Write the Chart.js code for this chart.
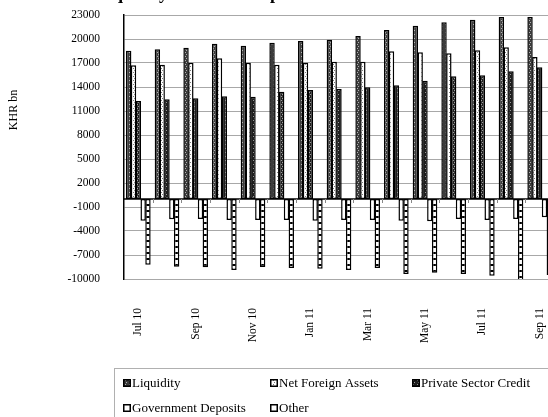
<!DOCTYPE html>
<html>
<head>
<meta charset="utf-8">
<script src="https://cdn.jsdelivr.net/npm/chart.js@4/dist/chart.umd.min.js"></script>
<style>
  html, body { margin: 0; padding: 0; background: #fff; overflow: hidden; }
  #wrap { position: absolute; left: 0; top: 0; width: 560px; height: 417px; }
</style>
</head>
<body>
<div id="wrap"><canvas id="chart" width="560" height="417"></canvas></div>
<script>
// data (KHR bn)
const months = ["Jul 10", "Aug 10", "Sep 10", "Oct 10", "Nov 10", "Dec 10", "Jan 11", "Feb 11",
  "Mar 11", "Apr 11", "May 11", "Jun 11", "Jul 11", "Aug 11", "Sep 11"];
const liquidity = [18540, 18710, 18910, 19410, 19160, 19540, 19750, 19910, 20375, 21125, 21660, 22090, 22410, 22750, 22750];
const netForeignAssets = [16710, 16790, 17040, 17590, 17040, 16790, 17040, 17160, 17160, 18460, 18340, 18210, 18590, 18960, 17750];
const privateCredit = [12250, 12460, 12590, 12840, 12790, 13410, 13625, 13750, 13960, 14210, 14790, 15340, 15460, 15960, 16460];
const govDeposits = [-2710, -2540, -2500, -2625, -2625, -2625, -2710, -2625, -2625, -2710, -2790, -2500, -2625, -2500, -2290];
const other = [-8210, -8460, -8540, -8875, -8500, -8625, -8710, -8875, -8625, -9375, -9210, -9375, -9580, -10300, -9500];
const yTicks = [-10000, -7000, -4000, -1000, 2000, 5000, 8000, 11000, 14000, 17000, 20000, 23000];

const serif = '"Times New Roman", "Liberation Serif", serif';

// small tiled fills that imitate the hatched bars
function makePattern(bg, fg, kind) {
  const c = document.createElement("canvas");
  c.width = 4; c.height = kind === "ladder" ? 6 : 4;
  const g = c.getContext("2d");
  g.fillStyle = bg;
  g.fillRect(0, 0, c.width, c.height);
  g.fillStyle = fg;
  if (kind === "dots") {
    g.fillRect(1, 0, 1, 1);
    g.fillRect(2, 2, 1, 1);
  } else if (kind === "ladder") {
    g.fillRect(0, 0, 4, 2);
  }
  return g.createPattern(c, "repeat");
}

const fills = [
  makePattern("#3c3c3c", "#b0b0b0", "dots"),
  makePattern("#ffffff", "#7a7a7a", "dots"),
  makePattern("#1e1e1e", "#9a9a9a", "dots"),
  "#ffffff",
  makePattern("#ffffff", "#000000", "ladder")
];
const legendFills = [fills[0], fills[1], fills[2], "#ffffff", "#ffffff"];
const names = ["Liquidity", "Net Foreign Assets", "Private Sector Credit", "Government Deposits", "Other"];
const series = [liquidity, netForeignAssets, privateCredit, govDeposits, other];

// title (cut off at the top), y label, zero line and legend
const extras = {
  id: "extras",
  afterDatasetsDraw(chart) {
    const ctx = chart.ctx;
    const y = chart.scales.y, x = chart.scales.x;
    const y0 = y.getPixelForValue(0);
    ctx.save();
    ctx.strokeStyle = "#000";
    ctx.lineWidth = 1.5;
    ctx.beginPath();
    ctx.moveTo(chart.chartArea.left, y0);
    ctx.lineTo(chart.chartArea.right, y0);
    ctx.stroke();
    ctx.lineWidth = 1;
    ctx.strokeStyle = "#888";
    for (let i = 1; i < months.length; i++) {
      const px = Math.round((x.getPixelForValue(i - 1) + x.getPixelForValue(i)) / 2) + 0.5;
      ctx.beginPath();
      ctx.moveTo(px, y0);
      ctx.lineTo(px, y0 + 4);
      ctx.stroke();
    }
    ctx.restore();
  },
  afterDraw(chart) {
    const ctx = chart.ctx;
    ctx.save();
    ctx.fillStyle = "#000";
    ctx.font = "bold 18px " + serif;
    ctx.textBaseline = "alphabetic";
    ctx.textAlign = "left";
    ctx.fillText("Liquidity and Counterparts", 96, -1);

    ctx.font = "12px " + serif;
    ctx.translate(14, 110);
    ctx.rotate(-Math.PI / 2);
    ctx.textAlign = "center";
    ctx.textBaseline = "middle";
    ctx.fillText("KHR bn", 0, 0);
    ctx.restore();

    // legend box
    ctx.save();
    ctx.strokeStyle = "#b0b0b0";
    ctx.lineWidth = 1;
    ctx.strokeRect(114.5, 368.5, 460, 60);
    const cols = [123, 270, 412];
    const rows = [383, 408];
    ctx.font = "13px " + serif;
    ctx.textBaseline = "middle";
    ctx.textAlign = "left";
    names.forEach((n, i) => {
      const lx = cols[i % 3], ly = rows[Math.floor(i / 3)];
      ctx.fillStyle = legendFills[i];
      ctx.fillRect(lx, ly - 4, 8, 8);
      ctx.strokeStyle = "#000";
      ctx.lineWidth = 1.5;
      ctx.strokeRect(lx + 0.75, ly - 3.25, 6.5, 6.5);
      ctx.fillStyle = "#000";
      ctx.fillText(n, lx + 9, ly + 1);
    });
    ctx.restore();
  }
};

new Chart(document.getElementById("chart"), {
  type: "bar",
  data: {
    labels: months,
    datasets: series.map((s, i) => ({
      label: names[i],
      data: s,
      backgroundColor: fills[i],
      borderColor: "#000",
      borderWidth: 1.5,
      borderSkipped: false,
      categoryPercentage: 0.84,
      barPercentage: 1.12
    }))
  },
  options: {
    responsive: false,
    animation: false,
    devicePixelRatio: 1,
    layout: { padding: { left: 0, right: 6, top: 15, bottom: 0 } },
    plugins: {
      legend: { display: false },
      tooltip: { enabled: false },
      title: { display: false }
    },
    scales: {
      x: {
        grid: { display: false },
        border: { display: false },
        afterFit: s => { s.height = 138; s.paddingLeft = 0; s.paddingRight = 0; },
        ticks: {
          autoSkip: false,
          maxRotation: 90,
          minRotation: 90,
          padding: 21,
          color: "#000",
          font: { family: serif, size: 11.5 },
          callback: (v, i) => (i % 2 === 0 ? months[i] : "")
        }
      },
      y: {
        min: -10000,
        max: 23000,
        afterFit: s => { s.width = 124; s.paddingTop = 0; s.paddingBottom = 0; },
        afterBuildTicks: s => { s.ticks = yTicks.map(v => ({ value: v })); },
        grid: { color: "#a8a8a8", lineWidth: 1, drawTicks: false },
        border: { display: true, color: "#000", width: 1.5 },
        ticks: {
          padding: 24,
          color: "#000",
          font: { family: serif, size: 11.5 },
          callback: v => String(v)
        }
      }
    }
  },
  plugins: [extras]
});
</script>
</body>
</html>
